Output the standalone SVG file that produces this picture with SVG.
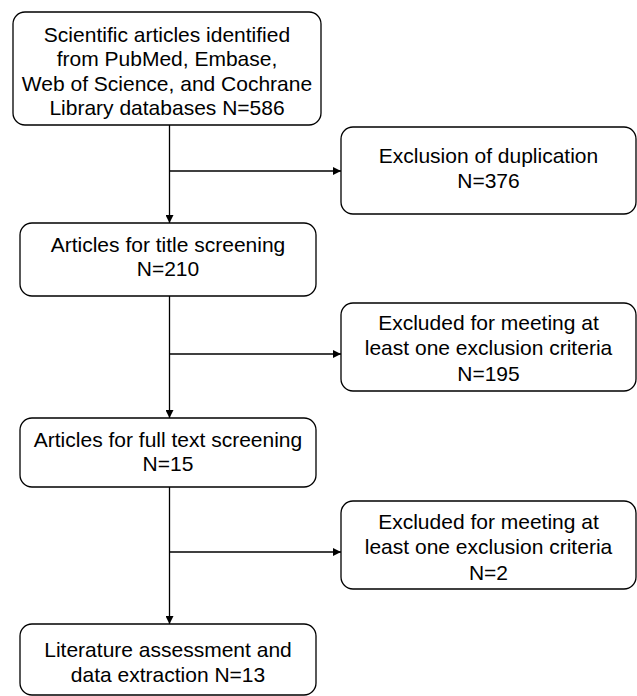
<svg xmlns="http://www.w3.org/2000/svg" width="637" height="696" viewBox="0 0 637 696">
<style>
.box{fill:#fff;stroke:#000;stroke-width:1.3}
.t{font-family:"Liberation Sans",Arial,sans-serif;font-size:21px;fill:#000;text-anchor:middle}
.c{fill:none;stroke:#000;stroke-width:1.3}
</style>
<defs>
<marker id="arr" viewBox="0 0 10 10" refX="10" refY="5" markerWidth="8" markerHeight="8" markerUnits="userSpaceOnUse" orient="auto">
<path d="M0,0 L10,5 L0,10 Z" fill="#000"/>
</marker>
</defs>
<rect width="637" height="696" fill="#fff"/>
<g id="connectors">
<path class="c" d="M169.5,125 V223" marker-end="url(#arr)"/>
<path class="c" d="M169.5,171 H341" marker-end="url(#arr)"/>
<path class="c" d="M169.5,296 V418" marker-end="url(#arr)"/>
<path class="c" d="M169.5,354 H341" marker-end="url(#arr)"/>
<path class="c" d="M169.5,487 V624" marker-end="url(#arr)"/>
<path class="c" d="M169.5,552 H341" marker-end="url(#arr)"/>
</g>
<g id="n1">
<rect class="box" x="13" y="12" width="308" height="113" rx="12"/>
<text class="t" x="167" y="42">Scientific articles identified</text>
<text class="t" x="167" y="66">from PubMed, Embase,</text>
<text class="t" x="167" y="91">Web of Science, and Cochrane</text>
<text class="t" x="167" y="115">Library databases N=586</text>
</g>
<g id="n2">
<rect class="box" x="341" y="127" width="295" height="87" rx="12"/>
<text class="t" x="488.5" y="163">Exclusion of duplication</text>
<text class="t" x="488.5" y="188">N=376</text>
</g>
<g id="n3">
<rect class="box" x="20" y="223" width="296" height="73" rx="12"/>
<text class="t" x="168" y="252">Articles for title screening</text>
<text class="t" x="168" y="276">N=210</text>
</g>
<g id="n4">
<rect class="box" x="341" y="303" width="295" height="88" rx="12"/>
<text class="t" x="488.5" y="330">Excluded for meeting at</text>
<text class="t" x="488.5" y="355">least one exclusion criteria</text>
<text class="t" x="488.5" y="381">N=195</text>
</g>
<g id="n5">
<rect class="box" x="20" y="418" width="296" height="69" rx="12"/>
<text class="t" x="168" y="447">Articles for full text screening</text>
<text class="t" x="168" y="471">N=15</text>
</g>
<g id="n6">
<rect class="box" x="341" y="501" width="295" height="88" rx="12"/>
<text class="t" x="488.5" y="529">Excluded for meeting at</text>
<text class="t" x="488.5" y="554">least one exclusion criteria</text>
<text class="t" x="488.5" y="580">N=2</text>
</g>
<g id="n7">
<rect class="box" x="20" y="624" width="296" height="71" rx="12"/>
<text class="t" x="168" y="657">Literature assessment and</text>
<text class="t" x="168" y="682">data extraction N=13</text>
</g>
</svg>
